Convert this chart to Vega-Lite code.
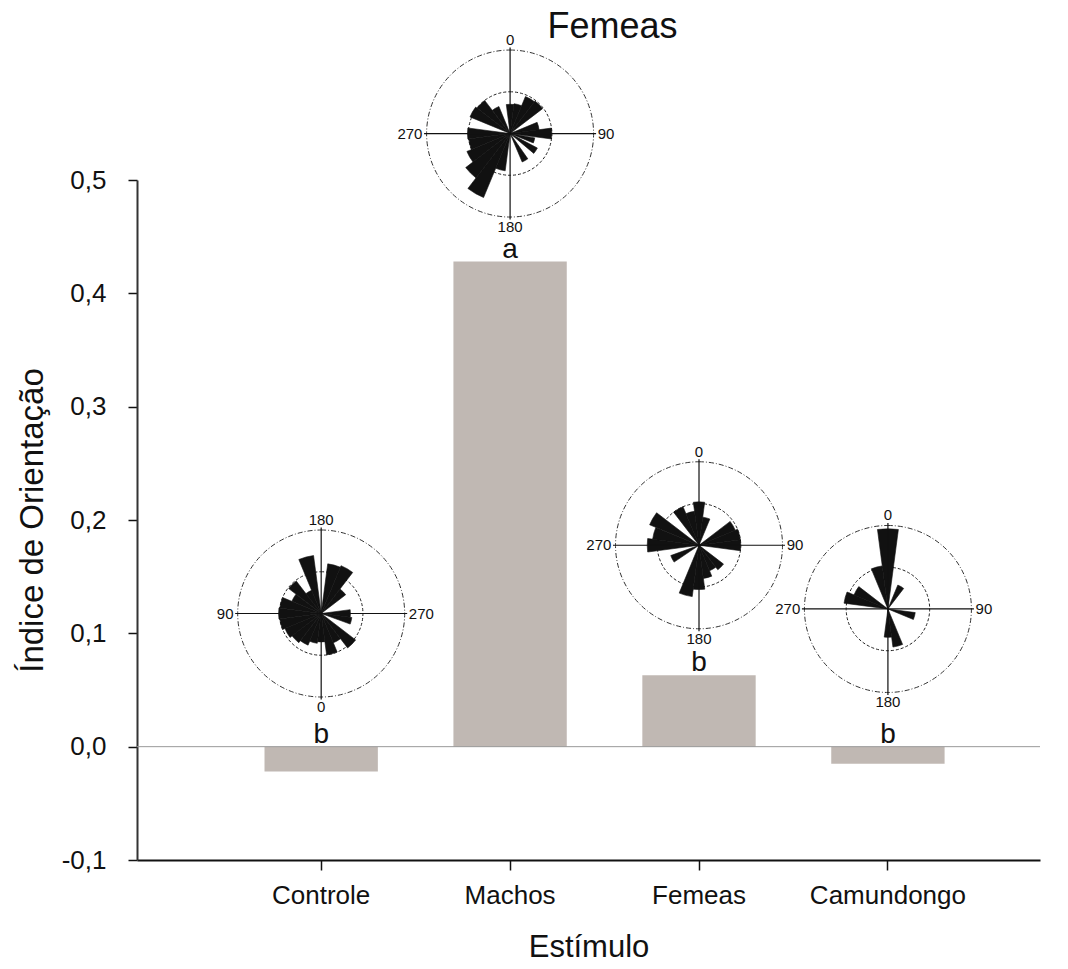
{
  "$schema": "https://vega.github.io/schema/vega-lite/v6.json",
  "width": 903,
  "height": 680,
  "autosize": {"type": "none"},
  "padding": {"left": 137, "top": 180, "right": 28, "bottom": 109},
  "background": "white",
  "config": {
    "font": "Liberation Sans",
    "view": {"stroke": null},
    "text": {"font": "Liberation Sans"},
    "axis": {"labelFont": "Liberation Sans", "titleFont": "Liberation Sans"}
  },
  "title": {
    "text": "Femeas",
    "fontSize": 36,
    "fontWeight": "normal",
    "color": "#111",
    "anchor": "middle",
    "frame": "group",
    "offset": -13,
    "dx": 24
  },
  "datasets": {
    "bars": [
      {"stimulus": "Controle", "index": -0.022, "letter": "b", "roseCentre": 0.1175},
      {"stimulus": "Machos", "index": 0.428, "letter": "a", "roseCentre": 0.541},
      {"stimulus": "Femeas", "index": 0.063, "letter": "b", "roseCentre": 0.1777},
      {"stimulus": "Camundongo", "index": -0.015, "letter": "b", "roseCentre": 0.1215}
    ],
    "roses": [
      {"stimulus": "Machos", "from": -7.5, "to": 7.5, "length": 0.35},
      {"stimulus": "Machos", "from": 7.5, "to": 22.5, "length": 0.36},
      {"stimulus": "Machos", "from": 22.5, "to": 37.5, "length": 0.48},
      {"stimulus": "Machos", "from": 37.5, "to": 52.5, "length": 0.49},
      {"stimulus": "Machos", "from": 67.5, "to": 82.5, "length": 0.35},
      {"stimulus": "Machos", "from": 82.5, "to": 97.5, "length": 0.5},
      {"stimulus": "Machos", "from": 100, "to": 112, "length": 0.3},
      {"stimulus": "Machos", "from": 118, "to": 130, "length": 0.37},
      {"stimulus": "Machos", "from": 145, "to": 157, "length": 0.37},
      {"stimulus": "Machos", "from": 187.5, "to": 202.5, "length": 0.45},
      {"stimulus": "Machos", "from": 202.5, "to": 217.5, "length": 0.83},
      {"stimulus": "Machos", "from": 217.5, "to": 232.5, "length": 0.67},
      {"stimulus": "Machos", "from": 232.5, "to": 247.5, "length": 0.56},
      {"stimulus": "Machos", "from": 247.5, "to": 262.5, "length": 0.5},
      {"stimulus": "Machos", "from": 262.5, "to": 277.5, "length": 0.51},
      {"stimulus": "Machos", "from": 292.5, "to": 307.5, "length": 0.52},
      {"stimulus": "Machos", "from": 307.5, "to": 322.5, "length": 0.5},
      {"stimulus": "Machos", "from": 322.5, "to": 337.5, "length": 0.35},
      {"stimulus": "Controle", "from": 7.5, "to": 22.5, "length": 0.6},
      {"stimulus": "Controle", "from": 22.5, "to": 37.5, "length": 0.62},
      {"stimulus": "Controle", "from": 37.5, "to": 52.5, "length": 0.37},
      {"stimulus": "Controle", "from": 82.5, "to": 97.5, "length": 0.35},
      {"stimulus": "Controle", "from": 97.5, "to": 110, "length": 0.37},
      {"stimulus": "Controle", "from": 127.5, "to": 142.5, "length": 0.52},
      {"stimulus": "Controle", "from": 142.5, "to": 157.5, "length": 0.38},
      {"stimulus": "Controle", "from": 157.5, "to": 172.5, "length": 0.5},
      {"stimulus": "Controle", "from": 172.5, "to": 187.5, "length": 0.34},
      {"stimulus": "Controle", "from": 187.5, "to": 202.5, "length": 0.36},
      {"stimulus": "Controle", "from": 202.5, "to": 217.5, "length": 0.41},
      {"stimulus": "Controle", "from": 217.5, "to": 232.5, "length": 0.44},
      {"stimulus": "Controle", "from": 232.5, "to": 247.5, "length": 0.47},
      {"stimulus": "Controle", "from": 247.5, "to": 262.5, "length": 0.5},
      {"stimulus": "Controle", "from": 262.5, "to": 277.5, "length": 0.51},
      {"stimulus": "Controle", "from": 277.5, "to": 292.5, "length": 0.5},
      {"stimulus": "Controle", "from": 292.5, "to": 307.5, "length": 0.38},
      {"stimulus": "Controle", "from": 307.5, "to": 322.5, "length": 0.49},
      {"stimulus": "Controle", "from": 322.5, "to": 337.5, "length": 0.3},
      {"stimulus": "Controle", "from": 337.5, "to": 352.5, "length": 0.7},
      {"stimulus": "Femeas", "from": -7.5, "to": 7.5, "length": 0.52},
      {"stimulus": "Femeas", "from": 7.5, "to": 22.5, "length": 0.34},
      {"stimulus": "Femeas", "from": 52.5, "to": 67.5, "length": 0.47},
      {"stimulus": "Femeas", "from": 67.5, "to": 82.5, "length": 0.5},
      {"stimulus": "Femeas", "from": 82.5, "to": 97.5, "length": 0.5},
      {"stimulus": "Femeas", "from": 127.5, "to": 142.5, "length": 0.37},
      {"stimulus": "Femeas", "from": 142.5, "to": 157.5, "length": 0.33},
      {"stimulus": "Femeas", "from": 157.5, "to": 172.5, "length": 0.4},
      {"stimulus": "Femeas", "from": 172.5, "to": 187.5, "length": 0.53},
      {"stimulus": "Femeas", "from": 187.5, "to": 202.5, "length": 0.62},
      {"stimulus": "Femeas", "from": 236, "to": 250, "length": 0.36},
      {"stimulus": "Femeas", "from": 262.5, "to": 277.5, "length": 0.62},
      {"stimulus": "Femeas", "from": 277.5, "to": 292.5, "length": 0.56},
      {"stimulus": "Femeas", "from": 292.5, "to": 307.5, "length": 0.64},
      {"stimulus": "Femeas", "from": 322.5, "to": 337.5, "length": 0.5},
      {"stimulus": "Femeas", "from": 337.5, "to": 352.5, "length": 0.41},
      {"stimulus": "Camundongo", "from": -7.5, "to": 7.5, "length": 0.96},
      {"stimulus": "Camundongo", "from": 337.5, "to": 352.5, "length": 0.52},
      {"stimulus": "Camundongo", "from": 22.5, "to": 37.5, "length": 0.31},
      {"stimulus": "Camundongo", "from": 97.5, "to": 112.5, "length": 0.33},
      {"stimulus": "Camundongo", "from": 157.5, "to": 172.5, "length": 0.46},
      {"stimulus": "Camundongo", "from": 172.5, "to": 187.5, "length": 0.34},
      {"stimulus": "Camundongo", "from": 277.5, "to": 292.5, "length": 0.53},
      {"stimulus": "Camundongo", "from": 292.5, "to": 307.5, "length": 0.44}
    ],
    "roseAxes": [
      {"stimulus": "Controle", "angle": 0, "label": "180"},
      {"stimulus": "Controle", "angle": 90, "label": "270"},
      {"stimulus": "Controle", "angle": 180, "label": "0"},
      {"stimulus": "Controle", "angle": 270, "label": "90"},
      {"stimulus": "Machos", "angle": 0, "label": "0"},
      {"stimulus": "Machos", "angle": 90, "label": "90"},
      {"stimulus": "Machos", "angle": 180, "label": "180"},
      {"stimulus": "Machos", "angle": 270, "label": "270"},
      {"stimulus": "Femeas", "angle": 0, "label": "0"},
      {"stimulus": "Femeas", "angle": 90, "label": "90"},
      {"stimulus": "Femeas", "angle": 180, "label": "180"},
      {"stimulus": "Femeas", "angle": 270, "label": "270"},
      {"stimulus": "Camundongo", "angle": 0, "label": "0"},
      {"stimulus": "Camundongo", "angle": 90, "label": "90"},
      {"stimulus": "Camundongo", "angle": 180, "label": "180"},
      {"stimulus": "Camundongo", "angle": 270, "label": "270"}
    ]
  },
  "layer": [
    {
      "data": {"name": "bars"},
      "mark": {"type": "bar", "color": "#c0b8b3"},
      "encoding": {
        "x": {
          "field": "stimulus", "type": "nominal", "title": "Estímulo",
          "scale": {"domain": ["Controle", "Machos", "Femeas", "Camundongo"], "paddingInner": 0.4, "paddingOuter": 0.59, "align": 0.572},
          "axis": {
            "labelAngle": 0, "domainColor": "#111", "domainWidth": 2, "tickColor": "#111", "tickWidth": 1.5, "tickSize": 10,
            "labelFontSize": 26, "labelColor": "#111", "labelPadding": 12,
            "titleFontSize": 31, "titleFontWeight": "normal", "titleColor": "#111", "titlePadding": 24
          }
        },
        "y": {
          "field": "index", "type": "quantitative", "title": "Índice de Orientação",
          "scale": {"domain": [-0.1, 0.5], "nice": false},
          "axis": {
            "values": [-0.1, 0, 0.1, 0.2, 0.3, 0.4, 0.5],
            "labelExpr": "replace(replace(format(datum.value, '.1f'), '.', ','), '\u2212', '-')",
            "grid": false, "domainColor": "#333", "domainWidth": 2, "tickColor": "#111", "tickWidth": 1.5, "tickSize": 9,
            "labelFontSize": 26, "labelColor": "#111", "labelPadding": 22,
            "titleFontSize": 33, "titleFontWeight": "normal", "titleColor": "#111", "titlePadding": 12
          }
        }
      }
    },
    {
      "data": {"values": [{"reference": 0}]},
      "mark": {"type": "rule", "color": "#999999", "strokeWidth": 1},
      "encoding": {
        "y": {"field": "reference", "type": "quantitative", "title": "Índice de Orientação"}
      }
    },
    {
      "data": {"name": "bars"},
      "transform": [{"filter": "datum.index > 0"}],
      "mark": {"type": "text", "baseline": "alphabetic", "dy": -4, "fontSize": 28, "color": "#111"},
      "encoding": {
        "x": {"field": "stimulus", "type": "nominal", "title": "Estímulo", "bandPosition": 0.5},
        "y": {"field": "index", "type": "quantitative", "title": "Índice de Orientação"},
        "text": {"field": "letter"}
      }
    },
    {
      "data": {"name": "bars"},
      "transform": [{"filter": "datum.index < 0"}],
      "mark": {"type": "text", "baseline": "alphabetic", "dy": -4, "fontSize": 28, "color": "#111"},
      "encoding": {
        "x": {"field": "stimulus", "type": "nominal", "title": "Estímulo", "bandPosition": 0.5},
        "y": {"datum": 0, "type": "quantitative", "title": "Índice de Orientação"},
        "text": {"field": "letter"}
      }
    },
    {
      "data": {"name": "bars"},
      "mark": {"type": "arc", "filled": false, "stroke": "#333", "strokeWidth": 1, "strokeDash": [5, 2, 1, 2]},
      "encoding": {
        "x": {"field": "stimulus", "type": "nominal", "title": "Estímulo", "bandPosition": 0.5},
        "y": {"field": "roseCentre", "type": "quantitative", "title": "Índice de Orientação", "stack": null},
        "theta": {"datum": 0, "scale": {"domain": [0, 360], "range": [0, 6.283185307179586], "nice": false, "zero": false}},
        "theta2": {"datum": 360},
        "radius": {"datum": 1, "scale": {"type": "linear", "domain": [0, 1], "range": [0, 83.5], "nice": false, "zero": true}}
      }
    },
    {
      "data": {"name": "bars"},
      "mark": {"type": "arc", "filled": false, "stroke": "#222", "strokeWidth": 1, "strokeDash": [3, 2]},
      "encoding": {
        "x": {"field": "stimulus", "type": "nominal", "title": "Estímulo", "bandPosition": 0.5},
        "y": {"field": "roseCentre", "type": "quantitative", "title": "Índice de Orientação", "stack": null},
        "theta": {"datum": 0},
        "theta2": {"datum": 360},
        "radius": {"datum": 0.5}
      }
    },
    {
      "data": {"name": "roses"},
      "transform": [{"lookup": "stimulus", "from": {"data": {"name": "bars"}, "key": "stimulus", "fields": ["roseCentre"]}}],
      "mark": {"type": "arc", "fill": "#111", "stroke": "#111", "strokeWidth": 0.6},
      "encoding": {
        "x": {"field": "stimulus", "type": "nominal", "title": "Estímulo", "bandPosition": 0.5},
        "y": {"field": "roseCentre", "type": "quantitative", "title": "Índice de Orientação", "stack": null},
        "theta": {"field": "from", "type": "quantitative", "stack": null},
        "theta2": {"field": "to"},
        "radius": {"field": "length", "type": "quantitative"}
      }
    },
    {
      "data": {"name": "roseAxes"},
      "transform": [{"lookup": "stimulus", "from": {"data": {"name": "bars"}, "key": "stimulus", "fields": ["roseCentre"]}}],
      "mark": {"type": "arc", "filled": false, "stroke": "#111", "strokeWidth": 1.2},
      "encoding": {
        "x": {"field": "stimulus", "type": "nominal", "title": "Estímulo", "bandPosition": 0.5},
        "y": {"field": "roseCentre", "type": "quantitative", "title": "Índice de Orientação", "stack": null},
        "theta": {"field": "angle", "type": "quantitative", "stack": null},
        "theta2": {"field": "angle"},
        "radius": {"datum": 1.03}
      }
    },
    {
      "data": {"name": "roseAxes"},
      "transform": [
        {"lookup": "stimulus", "from": {"data": {"name": "bars"}, "key": "stimulus", "fields": ["roseCentre"]}},
        {"filter": "datum.angle == 0 || datum.angle == 180"}
      ],
      "mark": {"type": "text", "align": "center", "baseline": "middle", "fontSize": 15, "color": "#111"},
      "encoding": {
        "x": {"field": "stimulus", "type": "nominal", "title": "Estímulo", "bandPosition": 0.5},
        "y": {"field": "roseCentre", "type": "quantitative", "title": "Índice de Orientação", "stack": null},
        "theta": {"field": "angle", "type": "quantitative", "stack": null},
        "radius": {"datum": 1.12},
        "text": {"field": "label"}
      }
    },
    {
      "data": {"name": "roseAxes"},
      "transform": [
        {"lookup": "stimulus", "from": {"data": {"name": "bars"}, "key": "stimulus", "fields": ["roseCentre"]}},
        {"filter": "datum.angle == 270"}
      ],
      "mark": {"type": "text", "align": "right", "baseline": "middle", "fontSize": 15, "color": "#111"},
      "encoding": {
        "x": {"field": "stimulus", "type": "nominal", "title": "Estímulo", "bandPosition": 0.5},
        "y": {"field": "roseCentre", "type": "quantitative", "title": "Índice de Orientação", "stack": null},
        "theta": {"field": "angle", "type": "quantitative", "stack": null},
        "radius": {"datum": 1.05},
        "text": {"field": "label"}
      }
    },
    {
      "data": {"name": "roseAxes"},
      "transform": [
        {"lookup": "stimulus", "from": {"data": {"name": "bars"}, "key": "stimulus", "fields": ["roseCentre"]}},
        {"filter": "datum.angle == 90"}
      ],
      "mark": {"type": "text", "align": "left", "baseline": "middle", "fontSize": 15, "color": "#111"},
      "encoding": {
        "x": {"field": "stimulus", "type": "nominal", "title": "Estímulo", "bandPosition": 0.5},
        "y": {"field": "roseCentre", "type": "quantitative", "title": "Índice de Orientação", "stack": null},
        "theta": {"field": "angle", "type": "quantitative", "stack": null},
        "radius": {"datum": 1.05},
        "text": {"field": "label"}
      }
    }
  ]
}
